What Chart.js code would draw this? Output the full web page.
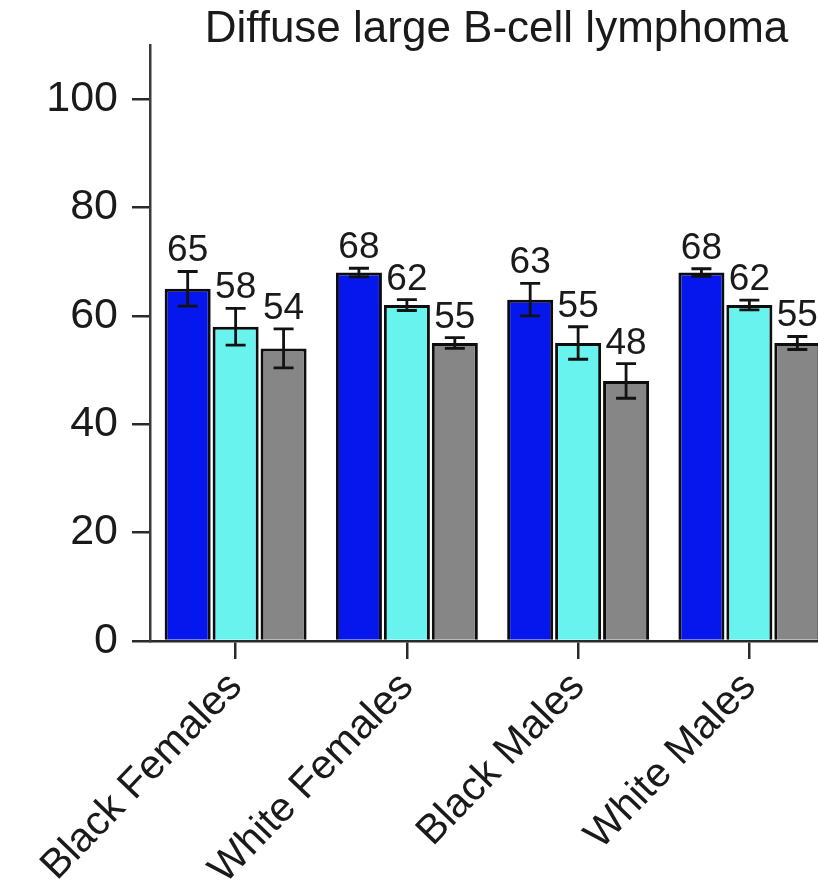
<!DOCTYPE html>
<html>
<head>
<meta charset="utf-8">
<script src="https://cdn.jsdelivr.net/npm/chart.js@4.4.1/dist/chart.umd.min.js"></script>
<style>
  html, body { margin: 0; padding: 0; overflow: hidden; background: #ffffff; }
  canvas { display: block; }
</style>
</head>
<body>
<canvas id="chart" width="835" height="883"></canvas>
<script>
// Chart content
const chartTitle = 'Diffuse large B-cell lymphoma';
const categories = ['Black Females', 'White Females', 'Black Males', 'White Males'];
const seriesBlue = [65, 68, 63, 68];
const seriesCyan = [58, 62, 55, 62];
const seriesGray = [54, 55, 48, 55];
const errorBlue = [3.2, 0.8, 3.0, 0.7];
const errorCyan = [3.4, 1.0, 3.0, 0.9];
const errorGray = [3.6, 1.0, 3.2, 1.2];
const yTickValues = [0, 20, 40, 60, 80, 100];
const yAxisMax = 110;

const FONT = '"Liberation Sans", Arial, Helvetica, sans-serif';
const INK = '#1a1a1a';

// Error bars with the value written above each one
const errorBarPlugin = {
  id: 'errorBars',
  afterDatasetsDraw(chart) {
    const ctx = chart.ctx;
    const yScale = chart.scales.y;
    chart.data.datasets.forEach((ds, i) => {
      const meta = chart.getDatasetMeta(i);
      meta.data.forEach((bar, j) => {
        const v = ds.data[j];
        const e = ds.errors[j];
        const top = yScale.getPixelForValue(v + e);
        const bottom = yScale.getPixelForValue(v - e);
        const cap = 10;
        ctx.save();
        ctx.strokeStyle = '#121212';
        ctx.lineWidth = 2.8;
        ctx.beginPath();
        ctx.moveTo(bar.x, top);
        ctx.lineTo(bar.x, bottom);
        ctx.moveTo(bar.x - cap, top);
        ctx.lineTo(bar.x + cap, top);
        ctx.moveTo(bar.x - cap, bottom);
        ctx.lineTo(bar.x + cap, bottom);
        ctx.stroke();
        ctx.fillStyle = INK;
        ctx.font = '37px ' + FONT;
        ctx.textAlign = 'center';
        ctx.textBaseline = 'alphabetic';
        ctx.fillText(String(v), bar.x, top - 10);
        ctx.restore();
      });
    });
  }
};

// Title centred over the plot area
const titlePlugin = {
  id: 'plotTitle',
  afterDraw(chart) {
    const ctx = chart.ctx;
    const area = chart.chartArea;
    ctx.save();
    ctx.fillStyle = INK;
    ctx.font = '44px ' + FONT;
    ctx.textAlign = 'center';
    ctx.textBaseline = 'alphabetic';
    ctx.fillText(chartTitle, (area.left + area.right) / 2 + 4, 42);
    ctx.restore();
  }
};

const barBorder = '#0d0d0d';

new Chart(document.getElementById('chart'), {
  type: 'bar',
  data: {
    labels: categories,
    datasets: [
      { label: 'Series 1', data: seriesBlue, errors: errorBlue, backgroundColor: '#0517ec', borderColor: barBorder, borderWidth: 3 },
      { label: 'Series 2', data: seriesCyan, errors: errorCyan, backgroundColor: '#68f3ef', borderColor: barBorder, borderWidth: 3 },
      { label: 'Series 3', data: seriesGray, errors: errorGray, backgroundColor: '#868686', borderColor: barBorder, borderWidth: 3 }
    ]
  },
  options: {
    responsive: false,
    animation: false,
    devicePixelRatio: 1,
    categoryPercentage: 0.84,
    barPercentage: 0.96,
    layout: { padding: { top: 45, left: 0, right: 0, bottom: 0 } },
    plugins: {
      legend: { display: false },
      tooltip: { enabled: false },
      title: { display: false }
    },
    scales: {
      x: {
        offset: true,
        grid: { display: true, drawOnChartArea: false, drawTicks: true, tickLength: 18, offset: false, color: '#2a2a2a', lineWidth: 2.5 },
        border: { display: true, color: '#2a2a2a', width: 2.5 },
        ticks: {
          color: INK,
          font: { family: FONT, size: 41 },
          minRotation: 46,
          maxRotation: 46,
          autoSkip: false,
          padding: 4
        },
        afterFit(scale) { scale.height = 242; }
      },
      y: {
        min: 0,
        max: yAxisMax,
        grid: { display: true, drawOnChartArea: false, drawTicks: true, tickLength: 18, color: '#2a2a2a', lineWidth: 2.5 },
        border: { display: true, color: '#3a3a3a', width: 2.5 },
        ticks: {
          color: INK,
          font: { family: FONT, size: 43 },
          padding: 14
        },
        afterBuildTicks(scale) {
          scale.ticks = yTickValues.map(v => ({ value: v }));
        },
        afterFit(scale) { scale.width = 150; }
      }
    }
  },
  plugins: [errorBarPlugin, titlePlugin]
});
</script>
</body>
</html>
